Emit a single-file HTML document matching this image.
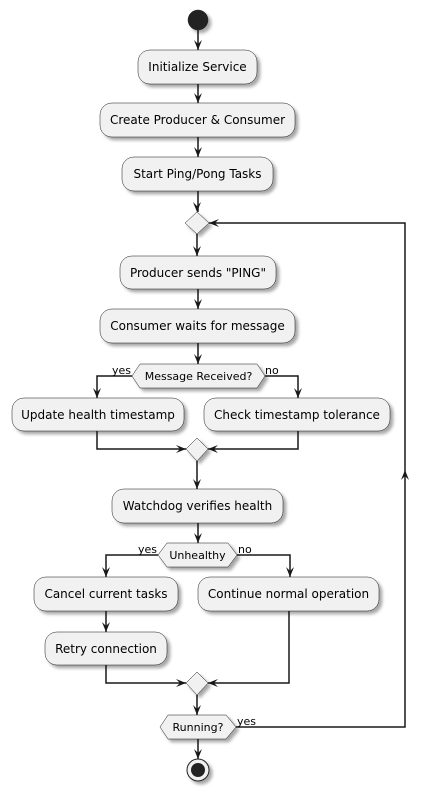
<!DOCTYPE html>
<html><head><meta charset="utf-8"><style>
html,body{margin:0;padding:0;background:#fff}
svg{display:block}
text{font-family:"DejaVu Sans","Liberation Sans",sans-serif;fill:#000}
</style></head><body>
<svg width="429" height="797" viewBox="0 0 429 797" xmlns="http://www.w3.org/2000/svg">
<defs>
<filter id="sh" x="-20%" y="-20%" width="150%" height="160%">
<feGaussianBlur in="SourceAlpha" stdDeviation="1.5"/>
<feOffset dx="3" dy="3" result="b"/>
<feComponentTransfer><feFuncA type="linear" slope="0.35"/></feComponentTransfer>
<feMerge><feMergeNode/><feMergeNode in="SourceGraphic"/></feMerge>
</filter>
</defs>
<g fill="#F1F1F1" stroke="#181818" stroke-width="0.5" filter="url(#sh)">
<circle cx="198" cy="20" r="10" fill="#222" stroke="#222"/>
<rect x="138" y="50" width="119" height="34" rx="12"/>
<rect x="100" y="103" width="195" height="34" rx="12"/>
<rect x="122" y="157" width="151" height="34" rx="12"/>
<polygon points="197,212 209,223 197,234 185,223"/>
<rect x="120" y="256" width="156" height="33" rx="12"/>
<rect x="100" y="309" width="195" height="34" rx="12"/>
<polygon points="132,376 140,364 257,364 265,376 257,388 140,388"/>
<rect x="12" y="398" width="172" height="33" rx="12"/>
<rect x="204" y="398" width="186" height="33" rx="12"/>
<polygon points="197,438 208,449 197,461 186,449"/>
<rect x="112" y="489" width="171" height="34" rx="12"/>
<polygon points="158,555 167,543 228,543 237,555 228,567 167,567"/>
<rect x="34" y="577" width="144" height="34" rx="12"/>
<rect x="198" y="577" width="181" height="34" rx="12"/>
<rect x="45" y="632" width="122" height="33" rx="12"/>
<polygon points="197,672 208,683 197,695 186,683"/>
<polygon points="160,727 168,715 226,715 236,727 226,739 168,739"/>
<circle cx="198" cy="770" r="11" fill="#F1F1F1" stroke="#222" stroke-width="1"/>
</g>
<circle cx="198" cy="770" r="7" fill="#222"/>
<g fill="none" stroke="#181818" stroke-width="1.5">
<path d="M198 30V50M198 84V103M198 137V157M198 191V212M197 234V256M198 289V309M198 343V364"/>
<path d="M132 376H97V398M265 376H298V398"/>
<path d="M97 431V449H186M298 431V449H208"/>
<path d="M197 461V489M198 523V543"/>
<path d="M158 555H106V577M237 555H290V577"/>
<path d="M106 611V632M106 665V683H186M289 611V683H208"/>
<path d="M197 695V715M198 739V759"/>
<path d="M236 727H405V223H209"/>
</g>
<g fill="#181818">
<path d="M198 50l-4-10 4 4 4-4z"/>
<path d="M198 103l-4-10 4 4 4-4z"/>
<path d="M198 157l-4-10 4 4 4-4z"/>
<path d="M197 212l-4-10 4 4 4-4z"/>
<path d="M197 256l-4-10 4 4 4-4z"/>
<path d="M198 309l-4-10 4 4 4-4z"/>
<path d="M198 364l-4-10 4 4 4-4z"/>
<path d="M97 398l-4-10 4 4 4-4z"/>
<path d="M298 398l-4-10 4 4 4-4z"/>
<path d="M197 489l-4-10 4 4 4-4z"/>
<path d="M198 543l-4-10 4 4 4-4z"/>
<path d="M106 577l-4-10 4 4 4-4z"/>
<path d="M290 577l-4-10 4 4 4-4z"/>
<path d="M106 632l-4-10 4 4 4-4z"/>
<path d="M197 715l-4-10 4 4 4-4z"/>
<path d="M198 759l-4-10 4 4 4-4z"/>
<path d="M186 449l-10-4 4 4-4 4z"/>
<path d="M208 449l10-4-4 4 4 4z"/>
<path d="M186 683l-10-4 4 4-4 4z"/>
<path d="M208 683l10-4-4 4 4 4z"/>
<path d="M209 223l10-4-4 4 4 4z"/>
<path d="M405 470l-4 10 4-4 4 4z"/>
</g>
<g font-size="12" text-anchor="middle">
<text x="197.5" y="71">Initialize Service</text>
<text x="197.5" y="124">Create Producer &amp; Consumer</text>
<text x="197.5" y="178">Start Ping/Pong Tasks</text>
<text x="198" y="277">Producer sends "PING"</text>
<text x="197.5" y="330">Consumer waits for message</text>
<text x="98" y="419">Update health timestamp</text>
<text x="297" y="419">Check timestamp tolerance</text>
<text x="197.5" y="510">Watchdog verifies health</text>
<text x="106" y="598">Cancel current tasks</text>
<text x="288.5" y="598">Continue normal operation</text>
<text x="106" y="653">Retry connection</text>
</g>
<g font-size="11" text-anchor="middle">
<text x="198.5" y="380">Message Received?</text>
<text x="197.5" y="559">Unhealthy</text>
<text x="198" y="731">Running?</text>
</g>
<g font-size="11">
<text x="112" y="374">yes</text>
<text x="265" y="374">no</text>
<text x="138" y="553">yes</text>
<text x="238" y="553">no</text>
<text x="237" y="725">yes</text>
</g>
</svg>
</body></html>
